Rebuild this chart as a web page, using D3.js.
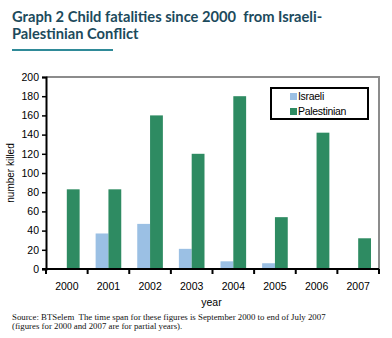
<!DOCTYPE html>
<html>
<head>
<meta charset="utf-8">
<script src="https://cdn.jsdelivr.net/npm/d3@7"></script>
<style>
  body { margin: 0; background: #fff; }
  svg { display: block; }
</style>
</head>
<body>
<div id="chart"></div>
<script>
// data
const years = ['2000', '2001', '2002', '2003', '2004', '2005', '2006', '2007'];
const israeli = [0, 37, 47, 21, 8, 6, 0, 0];
const palestinian = [83, 83, 160, 120, 180, 54, 142, 32];
const seriesNames = ['Israeli', 'Palestinian'];
const yTicks = [0, 20, 40, 60, 80, 100, 120, 140, 160, 180, 200];

const W = 392, H = 338;
const plot = { left: 46, right: 379, top: 77, bottom: 269 };

const svg = d3.select('#chart').append('svg')
  .attr('width', W)
  .attr('height', H);

// title
const title = svg.append('text')
  .attr('font-family', 'Lato, sans-serif')
  .attr('font-weight', 'bold')
  .attr('font-size', 14.7)
  .attr('fill', '#1c4a5c');
title.append('tspan').attr('x', 12).attr('y', 22).text('Graph 2 Child fatalities since 2000\u00a0 from Israeli-');
title.append('tspan').attr('x', 12).attr('y', 39).text('Palestinian Conflict');

svg.append('line')
  .attr('x1', 12).attr('x2', 113)
  .attr('y1', 50).attr('y2', 50)
  .attr('stroke', '#2f8a98')
  .attr('stroke-width', 2);

// scales
const x = d3.scaleBand()
  .domain(years)
  .range([plot.left, plot.right]);

const xSub = d3.scaleBand()
  .domain(seriesNames)
  .range([8, x.bandwidth() - 8]);

const y = d3.scaleLinear()
  .domain([0, 200])
  .range([plot.bottom, plot.top]);

const color = d3.scaleOrdinal()
  .domain(seriesNames)
  .range(['#9bc0e4', '#2e8b62']);

// gray frame on top and right
svg.append('path')
  .attr('d', `M${plot.left},${plot.top}H${plot.right}V${plot.bottom}`)
  .attr('fill', 'none')
  .attr('stroke', '#8c8c8c')
  .attr('stroke-width', 2);

// bars
const rows = years.map((yr, i) => ({ year: yr, Israeli: israeli[i], Palestinian: palestinian[i] }));

svg.append('g')
  .selectAll('g')
  .data(rows)
  .join('g')
    .attr('transform', d => `translate(${x(d.year)},0)`)
  .selectAll('rect')
  .data(d => seriesNames.map(k => ({ key: k, value: d[k] })))
  .join('rect')
    .attr('x', d => xSub(d.key))
    .attr('y', d => y(d.value))
    .attr('width', xSub.bandwidth())
    .attr('height', d => y(0) - y(d.value))
    .attr('fill', d => color(d.key));

// y axis
const yAxis = svg.append('g')
  .attr('transform', `translate(${plot.left},0)`)
  .call(d3.axisLeft(y).tickValues(yTicks).tickSize(4).tickPadding(3));
yAxis.select('.domain').attr('stroke', '#000').attr('stroke-width', 2);
yAxis.selectAll('line').attr('stroke', '#000').attr('stroke-width', 1.5);
yAxis.selectAll('text')
  .attr('font-family', 'Liberation Sans, Arial, sans-serif')
  .attr('font-size', 10.5)
  .attr('fill', '#000');

// x axis with ticks between categories
const xAxis = svg.append('g')
  .attr('transform', `translate(0,${plot.bottom})`);
xAxis.append('line')
  .attr('x1', plot.left - 4).attr('x2', plot.right)
  .attr('stroke', '#000').attr('stroke-width', 2);
xAxis.selectAll('.tick')
  .data(years.concat(['end']))
  .join('line')
    .attr('class', 'tick')
    .attr('x1', (d, i) => plot.left + i * x.step())
    .attr('x2', (d, i) => plot.left + i * x.step())
    .attr('y1', 0).attr('y2', 5)
    .attr('stroke', '#000').attr('stroke-width', 2);
xAxis.selectAll('.lbl')
  .data(years)
  .join('text')
    .attr('class', 'lbl')
    .attr('x', d => x(d) + x.bandwidth() / 2)
    .attr('y', 21)
    .attr('text-anchor', 'middle')
    .attr('font-family', 'Liberation Sans, Arial, sans-serif')
    .attr('font-size', 10.5)
    .text(d => d);

// axis titles
svg.append('text')
  .attr('x', (plot.left + plot.right) / 2 - 1)
  .attr('y', 306)
  .attr('text-anchor', 'middle')
  .attr('font-family', 'Liberation Sans, Arial, sans-serif')
  .attr('font-size', 10.5)
  .text('year');

svg.append('text')
  .attr('transform', `translate(14,${(plot.top + plot.bottom) / 2}) rotate(-90)`)
  .attr('text-anchor', 'middle')
  .attr('font-family', 'Liberation Sans, Arial, sans-serif')
  .attr('font-size', 10)
  .text('number killed');

// legend
svg.append('rect')
  .attr('x', 271).attr('y', 88)
  .attr('width', 97).attr('height', 31)
  .attr('fill', '#fff')
  .attr('stroke', '#000')
  .attr('stroke-width', 2);

const legend = svg.selectAll('.legend')
  .data(seriesNames)
  .join('g')
    .attr('class', 'legend')
    .attr('transform', (d, i) => `translate(290,${93 + i * 15})`);
legend.append('rect')
  .attr('width', 7).attr('height', 7)
  .attr('fill', d => color(d));
legend.append('text')
  .attr('x', 8).attr('y', 7)
  .attr('font-family', 'Liberation Sans, Arial, sans-serif')
  .attr('font-size', 10.5)
  .attr('letter-spacing', -0.3)
  .text(d => d);

// source note
const note = svg.append('text')
  .attr('font-family', 'Liberation Serif, Times New Roman, serif')
  .attr('font-size', 8.8)
  .attr('fill', '#111');
note.append('tspan').attr('x', 12).attr('y', 320)
  .text('Source: BTSelem\u00a0 The time span for these figures is September 2000 to end of July 2007');
note.append('tspan').attr('x', 12).attr('y', 329)
  .text('(figures for 2000 and 2007 are for partial years).');
</script>
</body>
</html>
